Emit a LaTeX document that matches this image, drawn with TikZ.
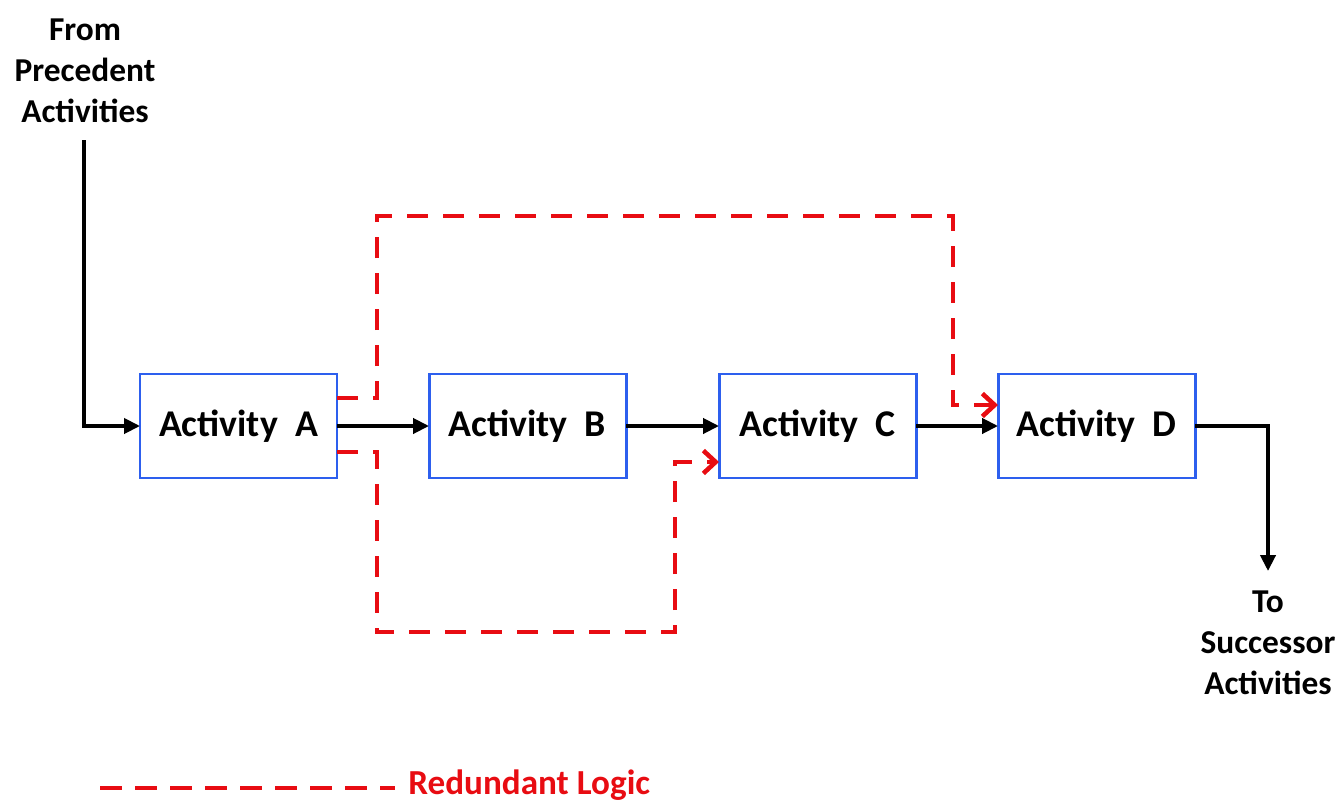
\documentclass[tikz,border=0pt]{standalone}
\usepackage{fontspec}
\setmainfont{Carlito}
\usetikzlibrary{arrows.meta,positioning,calc}
\definecolor{boxblue}{RGB}{45,95,238}
\definecolor{logicred}{RGB}{232,12,18}

\begin{document}
\begin{tikzpicture}[
    act/.style={draw=boxblue, line width=1.7pt, minimum width=3.94cm, minimum height=2.08cm, inner sep=0pt, outer sep=0pt, font=\fontsize{21.5}{24}\selectfont\bfseries},
    flow/.style={line width=2.1pt, -{Triangle[length=9pt,width=8.5pt]}},
    redundant/.style={logicred, line width=2.6pt, dash pattern=on 0.42cm off 0.3cm, -{Straight Barb[length=7pt,width=13pt,line width=2.6pt]}},
    lbl/.style={align=center, font=\fontsize{19}{23.3}\selectfont\bfseries}
]
    \useasboundingbox (0,0) rectangle (26.82,-16.08);
    \node[act] (A) at (4.77,-8.52) {Activity\ \ A};
    \node[act, right=1.84cm of A] (B) {Activity\ \ B};
    \node[act, right=1.86cm of B] (C) {Activity\ \ C};
    \node[act, right=1.64cm of C] (D) {Activity\ \ D};
    \node[lbl] (from) at (1.70,-1.42) {From\\Precedent\\Activities};
    \node[lbl] (to) at (25.36,-12.86) {To\\Successor\\Activities};
    \coordinate (in) at (1.68,-2.8);
    \coordinate (out) at (25.36,-11.42);
    \draw[flow] (in) |- (A.west);
    \draw[flow] (A) -- (B);
    \draw[flow] (B) -- (C);
    \draw[flow] (C) -- (D);
    \draw[flow] (D.east) -| (out);
    \coordinate (topL) at (7.54,-4.32);
    \coordinate (topR) at (19.06,-4.32);
    \coordinate (botL) at (7.54,-12.64);
    \coordinate (botR) at (13.5,-12.64);
    \draw[redundant] ([yshift=0.56cm]A.east) -| (topL) -- (topR) |- ([yshift=0.42cm]D.west);
    \draw[redundant] ([yshift=-0.52cm]A.east) -| (botL) -- (botR) |- ([yshift=-0.72cm]C.west);
    \coordinate (key) at (2.0,-15.76);
    \node[right, text=logicred, font=\fontsize{20}{24}\selectfont\bfseries, inner sep=0pt] (keytext) at (8.16,-15.70) {Redundant Logic};
    \draw[logicred, line width=2.6pt, dash pattern=on 0.44cm off 0.26cm] (key) -- ([xshift=-0.26cm]keytext.west |- key);
\end{tikzpicture}
\end{document}
